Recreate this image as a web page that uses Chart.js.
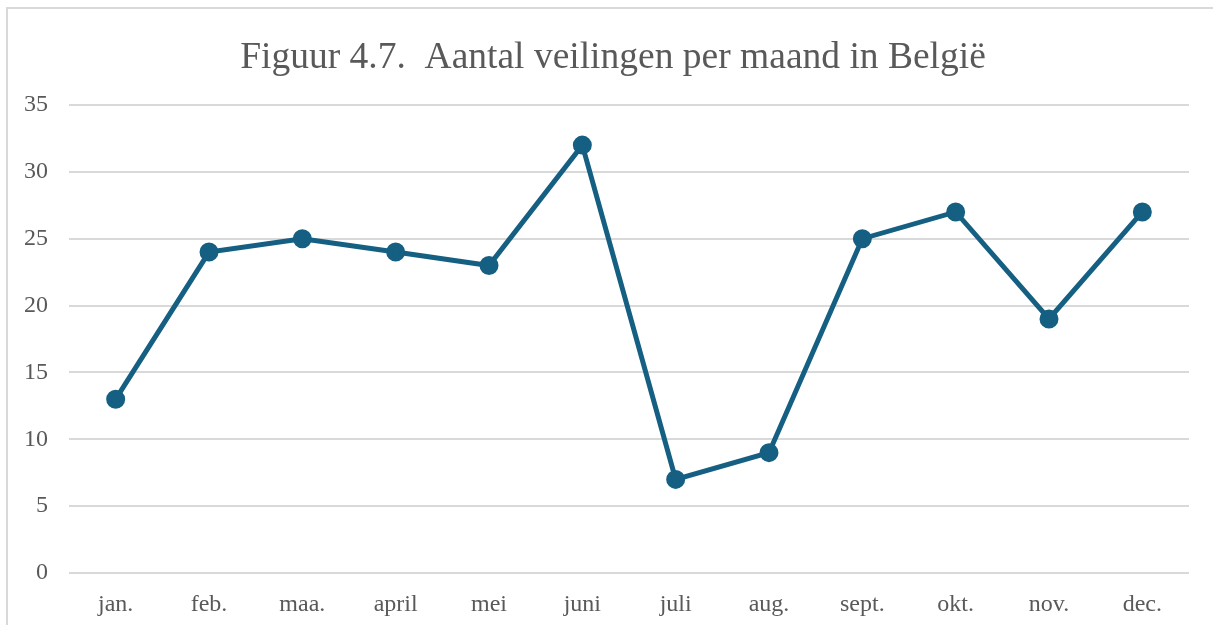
<!DOCTYPE html>
<html>
<head>
    <script src="https://cdn.jsdelivr.net/npm/chart.js"></script>
    <style>
        body { margin: 0; background: white; overflow: hidden; }
        #frame {
            position: absolute; left: 6px; top: 7px; width: 1300px; height: 700px;
            border: 2px solid #d9d9d9;
        }
        #wrap { position: absolute; left: 0; top: 0; width: 1213px; height: 625px; }
    </style>
</head>
<body>
    <div id="frame"></div>
    <div id="wrap"><canvas id="chart" width="1213" height="625"></canvas></div>
    <script>
        const maanden = ["jan.", "feb.", "maa.", "april", "mei", "juni", "juli", "aug.", "sept.", "okt.", "nov.", "dec."];
        const veilingen = [13, 24, 25, 24, 23, 32, 7, 9, 25, 27, 19, 27];
        const titel = "Figuur 4.7.  Aantal veilingen per maand in België";

        const grijs = "#595959";
        const lijn = "#155f82";

        // title is centred on the frame, not on the chart box
        const titelPlugin = {
            id: "titel",
            afterDraw(chart) {
                const ctx = chart.ctx;
                ctx.save();
                ctx.font = "37.5px 'Liberation Serif'";
                ctx.fillStyle = grijs;
                ctx.textAlign = "center";
                ctx.textBaseline = "middle";
                ctx.fillText(titel, 613, 58);
                ctx.restore();
            }
        };

        new Chart(document.getElementById("chart"), {
            type: "line",
            data: {
                labels: maanden,
                datasets: [{
                    data: veilingen,
                    borderColor: lijn,
                    backgroundColor: lijn,
                    borderWidth: 5,
                    pointRadius: 7,
                    pointHoverRadius: 7,
                    tension: 0
                }]
            },
            plugins: [titelPlugin],
            options: {
                responsive: false,
                animation: false,
                layout: { padding: { left: 0, right: 24, top: 105, bottom: 0 } },
                plugins: {
                    legend: { display: false },
                    tooltip: { enabled: false },
                    title: { display: false }
                },
                scales: {
                    x: {
                        offset: true,
                        grid: { display: false, drawTicks: false },
                        border: { display: false },
                        ticks: {
                            color: grijs,
                            padding: 17,
                            font: { family: "Liberation Serif", size: 24 }
                        },
                        afterFit: (s) => { s.height = 52; }
                    },
                    y: {
                        min: 0,
                        max: 35,
                        ticks: {
                            stepSize: 5,
                            color: grijs,
                            padding: 21,
                            font: { family: "Liberation Serif", size: 24 }
                        },
                        grid: { color: "#d9d9d9", lineWidth: 2, drawTicks: false },
                        border: { display: false },
                        afterFit: (s) => { s.width = 69; }
                    }
                }
            }
        });
    </script>
</body>
</html>
